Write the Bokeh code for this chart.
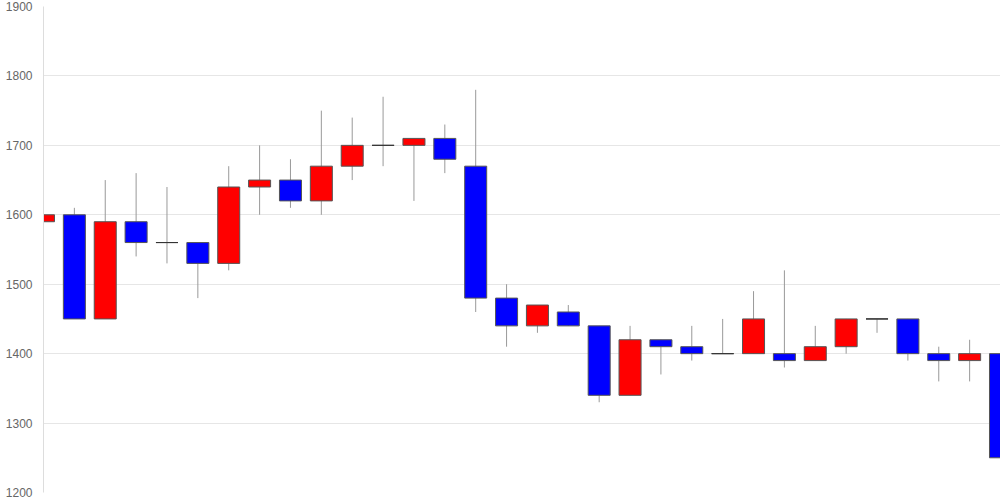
from bokeh.plotting import figure
from bokeh.models import Range1d, FixedTicker, ColumnDataSource
from bokeh.embed import file_html
from bokeh.resources import INLINE

# ---- data ----
opens  = [1590, 1600, 1450, 1590, 1560, 1560, 1530, 1640, 1650, 1620, 1670, 1700, 1700, 1710, 1670, 1480,
          1440, 1460, 1440, 1340, 1420, 1410, 1400, 1400, 1400, 1390, 1410, 1450, 1450, 1400, 1390, 1400]
closes = [1600, 1450, 1590, 1560, 1560, 1530, 1640, 1650, 1620, 1670, 1700, 1700, 1710, 1680, 1480, 1440,
          1470, 1440, 1340, 1420, 1410, 1400, 1400, 1450, 1390, 1410, 1450, 1450, 1400, 1390, 1400, 1250]
highs  = [1660, 1610, 1650, 1660, 1640, 1560, 1670, 1700, 1680, 1750, 1740, 1770, 1710, 1730, 1780, 1500,
          1470, 1470, 1440, 1440, 1420, 1440, 1450, 1490, 1520, 1440, 1450, 1450, 1450, 1410, 1420, 1400]
lows   = [1580, 1450, 1450, 1540, 1530, 1480, 1520, 1600, 1610, 1600, 1650, 1670, 1620, 1660, 1460, 1410,
          1430, 1440, 1330, 1340, 1370, 1390, 1400, 1400, 1380, 1390, 1400, 1430, 1390, 1360, 1360, 1250]
y_ticks = [1200, 1300, 1400, 1500, 1600, 1700, 1800, 1900]

UP_COLOR = "#ff0000"
DOWN_COLOR = "#0000ff"
BODY_W = 0.713

idx = list(range(len(opens)))
tops = [max(o, c) for o, c in zip(opens, closes)]
bots = [min(o, c) for o, c in zip(opens, closes)]
cols = [UP_COLOR if c >= o else DOWN_COLOR for o, c in zip(opens, closes)]

src = ColumnDataSource(dict(x=idx, top=tops, bottom=bots, high=highs, low=lows, color=cols))

p = figure(width=1000, height=500, output_backend="svg", toolbar_location=None,
           x_range=Range1d(0, len(opens) - 1), y_range=Range1d(1200, 1900),
           min_border_left=43, min_border_right=0, min_border_top=6, min_border_bottom=8)
p.outline_line_color = None
p.background_fill_color = "white"
p.border_fill_color = "white"

p.xaxis.visible = False
p.xgrid.grid_line_color = None
p.ygrid.grid_line_color = "#e6e6e6"
p.ygrid.ticker = FixedTicker(ticks=y_ticks)
p.yaxis.ticker = FixedTicker(ticks=y_ticks)
p.yaxis.axis_line_color = "#dddddd"
p.yaxis.major_tick_line_color = None
p.yaxis.minor_tick_line_color = None
p.yaxis.major_tick_out = 0
p.yaxis.major_tick_in = 0
p.yaxis.major_label_standoff = 11
p.yaxis.major_label_text_font = "Liberation Sans"
p.yaxis.major_label_text_font_size = "12px"
p.yaxis.major_label_text_color = "#666666"

# wicks
p.segment(x0="x", y0="low", x1="x", y1="high", source=src, line_color="#999999", line_width=1)
# bodies
p.vbar(x="x", width=BODY_W, top="top", bottom="bottom", source=src,
       fill_color="color", line_color="#555555", line_width=1)
# doji (open == close) drawn as horizontal strokes
dx = [i for i, o, c in zip(idx, opens, closes) if o == c]
dy = [o for o, c in zip(opens, closes) if o == c]
p.segment(x0=[x - BODY_W / 2 for x in dx], y0=dy, x1=[x + BODY_W / 2 for x in dx], y1=dy,
          line_color="#333333", line_width=1)

open("out.html", "w").write(file_html(p, INLINE))
